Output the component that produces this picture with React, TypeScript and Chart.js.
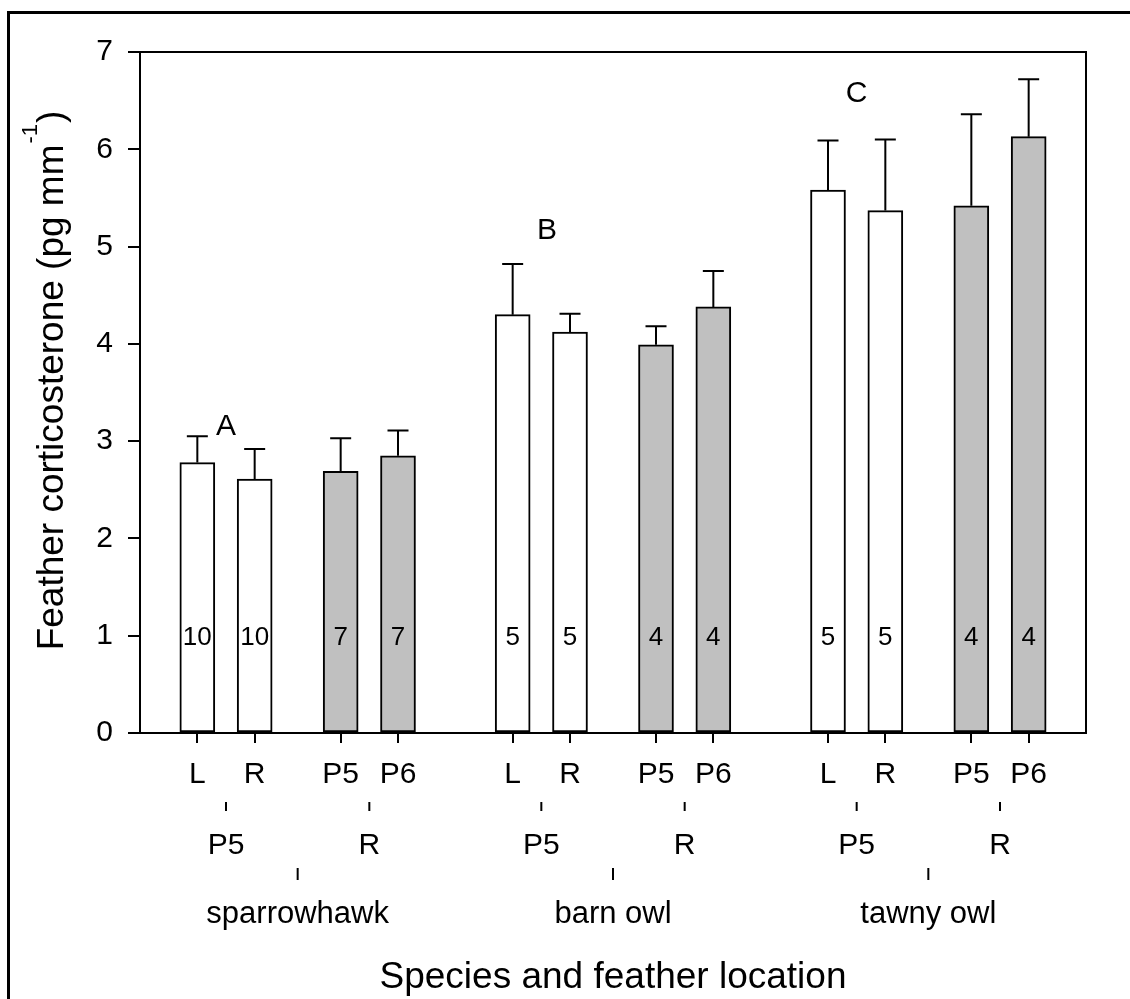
import { useEffect, useRef } from "react";
import Chart from "chart.js/auto";

// bar positions on a linear x axis (pairs sit 1 apart, pairs 1.5 apart, species 2 apart)
const xPositions = [1, 2, 3.5, 4.5, 6.5, 7.5, 9, 10, 12, 13, 14.5, 15.5];
const tickLabels = ["L", "R", "P5", "P6", "L", "R", "P5", "P6", "L", "R", "P5", "P6"];
const means = [2.78, 2.61, 2.69, 2.85, 4.3, 4.12, 3.99, 4.38, 5.58, 5.37, 5.42, 6.13];
const errors = [0.27, 0.31, 0.34, 0.26, 0.52, 0.19, 0.19, 0.37, 0.51, 0.73, 0.94, 0.59];
const sampleSizes = [10, 10, 7, 7, 5, 5, 4, 4, 5, 5, 4, 4];
const featherGroups = ["P5", "R"];
const species = ["sparrowhawk", "barn owl", "tawny owl"];
const groupLetters = ["A", "B", "C"];
const letterX = [1.5, 7.1, 12.5];
const letterY = [3.18, 5.19, 6.6];

const fontFamily = "'Liberation Sans', Arial, Helvetica, sans-serif";

const decorations = {
  id: "decorations",
  afterDatasetsDraw(chart: any) {
    const { ctx } = chart;
    const x = chart.scales.x;
    const y = chart.scales.y;
    ctx.save();
    ctx.strokeStyle = "#000";
    ctx.lineWidth = 2;
    means.forEach((m, i) => {
      const px = x.getPixelForValue(xPositions[i]);
      const base = y.getPixelForValue(m);
      const top = y.getPixelForValue(m + errors[i]);
      ctx.beginPath();
      ctx.moveTo(px, base);
      ctx.lineTo(px, top);
      ctx.moveTo(px - 10.5, top);
      ctx.lineTo(px + 10.5, top);
      ctx.stroke();
    });

    ctx.fillStyle = "#000";
    ctx.textAlign = "center";
    ctx.textBaseline = "alphabetic";
    ctx.font = `26px ${fontFamily}`;
    sampleSizes.forEach((n, i) => {
      ctx.fillText(String(n), x.getPixelForValue(xPositions[i]), y.getPixelForValue(1) + 9.5);
    });

    ctx.font = `30px ${fontFamily}`;
    groupLetters.forEach((l, i) => {
      ctx.fillText(l, x.getPixelForValue(letterX[i]), y.getPixelForValue(letterY[i]) + 11);
    });
    ctx.restore();
  },
  afterDraw(chart: any) {
    const { ctx, chartArea } = chart;
    const x = chart.scales.x;
    const { left, right, top, bottom } = chartArea;
    ctx.save();
    ctx.strokeStyle = "#000";
    ctx.fillStyle = "#000";

    // outer frame (cut off at right and bottom)
    ctx.lineWidth = 3;
    ctx.beginPath();
    ctx.moveTo(8.5, 1000);
    ctx.lineTo(8.5, 12.5);
    ctx.lineTo(1131, 12.5);
    ctx.stroke();

    // plot box top and right
    ctx.lineWidth = 2;
    ctx.beginPath();
    ctx.moveTo(left, top);
    ctx.lineTo(right, top);
    ctx.lineTo(right, bottom);
    ctx.stroke();

    ctx.textAlign = "center";
    ctx.textBaseline = "alphabetic";

    // second row: feather groups
    ctx.font = `30px ${fontFamily}`;
    species.forEach((_s, si) => {
      featherGroups.forEach((g, gi) => {
        const a = xPositions[si * 4 + gi * 2];
        const b = xPositions[si * 4 + gi * 2 + 1];
        const px = x.getPixelForValue((a + b) / 2);
        ctx.beginPath();
        ctx.moveTo(px, bottom + 69);
        ctx.lineTo(px, bottom + 78);
        ctx.stroke();
        ctx.fillText(g, px, bottom + 121);
      });
    });

    // third row: species
    ctx.font = `31px ${fontFamily}`;
    species.forEach((s, si) => {
      const a = xPositions[si * 4];
      const b = xPositions[si * 4 + 3];
      const px = x.getPixelForValue((a + b) / 2);
      ctx.beginPath();
      ctx.moveTo(px, bottom + 135);
      ctx.lineTo(px, bottom + 147);
      ctx.stroke();
      ctx.fillText(s, px, bottom + 190);
    });

    // x title
    ctx.font = `37px ${fontFamily}`;
    ctx.fillText("Species and feather location", (left + right) / 2, bottom + 255);

    // y title with superscript
    const main = "Feather corticosterone (pg mm";
    const sup = "-1";
    const close = ")";
    ctx.font = `37px ${fontFamily}`;
    const w1 = ctx.measureText(main).width;
    const w3 = ctx.measureText(close).width;
    ctx.font = `22px ${fontFamily}`;
    const w2 = ctx.measureText(sup).width;
    const total = w1 + w2 + w3;
    const cy = (top + bottom) / 2 - 11;
    ctx.translate(63, cy + total / 2);
    ctx.rotate(-Math.PI / 2);
    ctx.textAlign = "left";
    ctx.font = `37px ${fontFamily}`;
    ctx.fillText(main, 0, 0);
    ctx.font = `22px ${fontFamily}`;
    ctx.fillText(sup, w1 + 1, -26);
    ctx.font = `37px ${fontFamily}`;
    ctx.fillText(close, w1 + w2 + 2, 0);
    ctx.restore();
  },
};

export default function App() {
  const canvasRef = useRef<HTMLCanvasElement>(null);

  useEffect(() => {
    if (!canvasRef.current) return;
    const chart = new Chart(canvasRef.current, {
      type: "bar",
      data: {
        datasets: [
          {
            data: means.map((m, i) => ({ x: xPositions[i], y: m })),
            backgroundColor: means.map((_m, i) => (i % 4 < 2 ? "#ffffff" : "#c0c0c0")),
            borderColor: "#000",
            borderWidth: 2,
            borderSkipped: false,
            barThickness: 35,
          },
        ],
      },
      options: {
        responsive: false,
        animation: false,
        events: [],
        layout: { padding: { top: 52, right: 44, left: 0, bottom: 0 } },
        plugins: {
          legend: { display: false },
          tooltip: { enabled: false },
        },
        scales: {
          x: {
            type: "linear",
            min: 0,
            max: 16.5,
            offset: false,
            afterBuildTicks: (scale: any) => {
              scale.ticks = xPositions.map((value) => ({ value }));
            },
            afterFit: (scale: any) => {
              scale.height = 266;
            },
            ticks: {
              autoSkip: false,
              maxRotation: 0,
              padding: 14,
              color: "#000",
              font: { family: fontFamily, size: 30 },
              callback: (_v: any, i: number) => tickLabels[i],
            },
            grid: {
              offset: false,
              drawOnChartArea: false,
              tickLength: 10,
              color: "#000",
              lineWidth: 2,
            },
            border: { display: true, color: "#000", width: 2 },
          },
          y: {
            min: 0,
            max: 7,
            afterFit: (scale: any) => {
              scale.width = 140;
            },
            ticks: {
              stepSize: 1,
              padding: 15,
              color: "#000",
              font: { family: fontFamily, size: 30 },
            },
            grid: { drawOnChartArea: false, tickLength: 12, color: "#000", lineWidth: 2 },
            border: { display: true, color: "#000", width: 2 },
          },
        },
      },
      plugins: [decorations],
    });
    return () => chart.destroy();
  }, []);

  return (
    <div style={{ position: "fixed", left: 0, top: 0, width: 1130, height: 999, background: "#fff" }}>
      <canvas ref={canvasRef} width={1130} height={999} />
    </div>
  );
}
